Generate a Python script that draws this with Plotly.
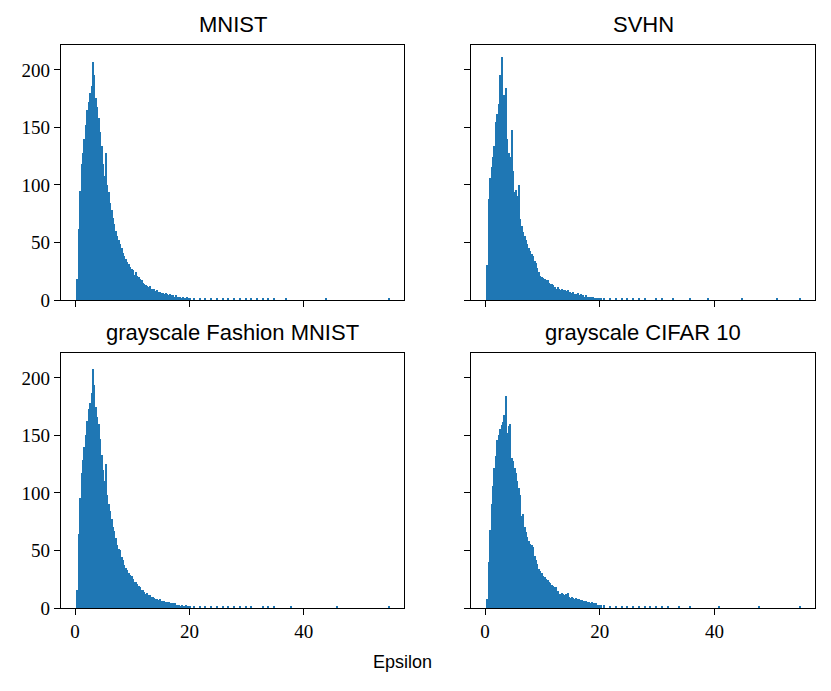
import numpy as np
import plotly.graph_objects as go

# histogram counts
# head: bins of width 0.25 starting at 0.3, tail: bins of width 1.0 starting at 20.3
HEAD_START, HEAD_W = 0.3, 0.25
TAIL_START, TAIL_W = 20.3, 1.0

titles = ["MNIST", "SVHN", "grayscale Fashion MNIST", "grayscale CIFAR 10"]

mnist_head = [
    18, 62, 95, 118, 128, 140, 152, 165, 172, 180,
    186, 207, 196, 176, 168, 158, 146, 134, 118, 108,
    128, 100, 94, 84, 78, 71, 66, 60, 56, 52,
    49, 45, 41, 38, 36, 33, 31, 29, 27, 26,
    22, 24, 21, 20, 18, 17, 15, 14, 13, 12,
    11, 12, 10, 9, 10, 8, 9, 7, 7, 6,
    6, 5, 6, 5, 4, 5, 4, 4, 3, 4,
    3, 3, 3, 2, 3, 2, 2, 3, 2, 2,
]
mnist_tail = [2, 2, 2, 1, 2, 1, 1, 1, 1, 1, 1, 1, 1, 1, 1, 0, 1, 0, 0, 0,
              0, 0, 0, 1, 0, 0, 0, 0, 0, 0, 0, 0, 0, 0, 1]

svhn_head = [
    30, 88, 106, 116, 124, 134, 155, 162, 170, 196,
    211, 158, 178, 184, 140, 128, 124, 148, 112, 94,
    96, 90, 100, 70, 64, 59, 56, 52, 49, 45,
    43, 40, 38, 34, 32, 28, 24, 21, 20, 19,
    18, 17, 17, 15, 14, 14, 13, 11, 10, 11,
    10, 9, 10, 9, 9, 8, 9, 7, 7, 6,
    7, 5, 5, 6, 4, 5, 4, 4, 3, 4,
    3, 3, 3, 2, 3, 2, 2, 2, 2, 1,
]
svhn_tail = [2, 1, 2, 1, 1, 1, 1, 1, 0, 1, 1, 0, 1, 0, 0, 1, 0, 0, 1, 0,
             0, 0, 0, 0, 1, 0, 0, 0, 0, 0, 1, 0, 0, 0, 1]

fashion_head = [
    16, 64, 96, 117, 129, 140, 150, 163, 173, 178,
    187, 208, 194, 175, 166, 160, 147, 133, 120, 110,
    125, 98, 90, 84, 77, 70, 67, 61, 55, 51,
    50, 44, 42, 37, 35, 33, 30, 29, 28, 25,
    23, 23, 21, 19, 18, 16, 16, 14, 12, 13,
    11, 11, 10, 10, 9, 8, 8, 7, 8, 6,
    6, 6, 5, 5, 5, 4, 4, 4, 4, 3,
    3, 3, 2, 3, 2, 2, 3, 2, 2, 2,
]
fashion_tail = [2, 2, 1, 2, 1, 1, 2, 1, 1, 1, 1, 0, 1, 1, 1, 0, 0, 1, 0, 0,
                0, 0, 0, 0, 0, 1, 0, 0, 0, 0, 0, 0, 0, 0, 1]

cifar_head = [
    8, 40, 68, 90, 106, 122, 132, 146, 150, 156,
    159, 162, 168, 184, 152, 158, 160, 130, 128, 122,
    117, 110, 104, 98, 80, 82, 70, 66, 62, 58,
    56, 55, 53, 45, 42, 38, 34, 32, 30, 28,
    27, 25, 24, 23, 22, 20, 19, 18, 18, 15,
    11, 12, 13, 12, 11, 12, 13, 10, 9, 10,
    9, 8, 9, 8, 8, 7, 7, 6, 6, 6,
    5, 5, 4, 5, 4, 4, 4, 3, 3, 3,
]
cifar_tail = [3, 2, 2, 2, 1, 2, 1, 1, 1, 1, 1, 1, 0, 1, 0, 1, 0, 0, 0, 0,
              1, 0, 0, 0, 0, 0, 0, 1, 0, 0, 0, 0, 0, 0, 1]

heads = [mnist_head, svhn_head, fashion_head, cifar_head]
tails = [mnist_tail, svhn_tail, fashion_tail, cifar_tail]

BLUE = "#1f77b4"
PAD = 8  # default body margin of the page
W, H = 831 - 2 * PAD, 691 - 2 * PAD


def px(v):
    return (v - PAD) / W


def py(v):
    return 1 - (v - PAD) / H


# panel boxes in window pixels: (left, right, top, bottom)
boxes = [(61, 404, 45, 300), (471, 815, 45, 300),
         (61, 404, 353, 608), (471, 815, 353, 608)]

fig = go.Figure()
layout = {}
annotations = []
for k in range(4):
    n = k + 1
    sfx = "" if n == 1 else str(n)
    head = np.array(heads[k], dtype=float)
    tail = np.array(tails[k], dtype=float)
    hx = HEAD_START + HEAD_W * (np.arange(len(head)) + 0.5)
    tx = TAIL_START + TAIL_W * (np.arange(len(tail)) + 0.5)
    for xs, ys, w in ((hx, head, HEAD_W), (tx, tail, TAIL_W * 0.35)):
        fig.add_trace(go.Bar(
            x=xs, y=ys, width=w, marker=dict(color=BLUE, line=dict(width=0)),
            xaxis="x" + sfx, yaxis="y" + sfx, showlegend=False,
        ))

    l, r, t, b = boxes[k]
    bottom_row = k >= 2
    left_col = k % 2 == 0
    axis_common = dict(
        showline=True, mirror=True, linecolor="black", linewidth=1.4,
        ticks="outside", ticklen=6, tickwidth=1.4, tickcolor="black",
        showgrid=False, zeroline=False, automargin=False,
        tickfont=dict(family="Liberation Serif", size=19, color="black"),
    )
    layout["xaxis" + sfx] = dict(
        axis_common, domain=[px(l), px(r)], anchor="y" + sfx,
        range=[-2.45, 57.5], tickvals=[0, 20, 40],
        showticklabels=bottom_row,
    )
    layout["yaxis" + sfx] = dict(
        axis_common, domain=[py(b), py(t)], anchor="x" + sfx,
        range=[0, 221.7], tickvals=[0, 50, 100, 150, 200],
        showticklabels=left_col,
    )
    annotations.append(dict(
        text=titles[k], x=px((l + r) / 2), y=py(t), xref="paper", yref="paper",
        xanchor="center", yanchor="bottom", yshift=6, showarrow=False,
        font=dict(family="Liberation Sans", size=22, color="black"),
    ))

annotations.append(dict(
    text="Epsilon", x=px(402), y=py(662), xref="paper", yref="paper",
    xanchor="center", yanchor="middle", showarrow=False,
    font=dict(family="Liberation Sans", size=18, color="black"),
))

fig.update_layout(
    width=W, height=H, margin=dict(l=0, r=0, t=0, b=0),
    plot_bgcolor="white", paper_bgcolor="white",
    bargap=0, barmode="overlay",
    annotations=annotations, **layout,
)

fig.write_html("out.html")
